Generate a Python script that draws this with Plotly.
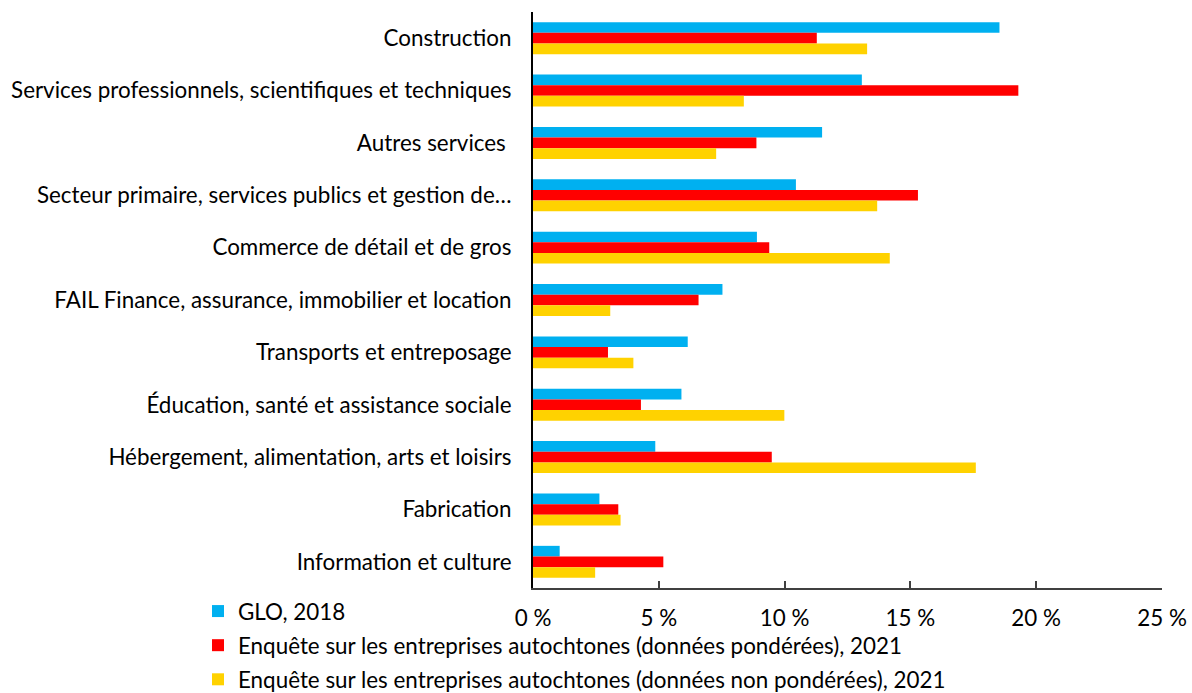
import plotly.graph_objects as go

categories = [
    "Construction",
    "Services professionnels, scientifiques et techniques",
    "Autres services\u00a0",
    "Secteur primaire, services publics et gestion de…",
    "Commerce de détail et de gros",
    "FAIL Finance, assurance, immobilier et location",
    "Transports et entreposage",
    "Éducation, santé et assistance sociale",
    "Hébergement, alimentation, arts et loisirs",
    "Fabrication",
    "Information et culture",
]

series_names = [
    "GLO, 2018",
    "Enquête sur les entreprises autochtones (données pondérées), 2021",
    "Enquête sur les entreprises autochtones (données non pondérées), 2021",
]

glo_2018 = [18.54, 13.07, 11.49, 10.45, 8.90, 7.53, 6.15, 5.90, 4.86, 2.64, 1.06]
eea_ponderees = [11.28, 19.29, 8.88, 15.30, 9.39, 6.58, 2.98, 4.29, 9.49, 3.39, 5.18]
eea_non_ponderees = [13.28, 8.38, 7.28, 13.68, 14.18, 3.07, 3.99, 9.99, 17.60, 3.48, 2.47]

tick_vals = [0, 5, 10, 15, 20, 25]
tick_text = ["0 %", "5 %", "10 %", "15 %", "20 %", "25 %"]

colors = ["#00B0F0", "#FF0000", "#FFD200"]

FONT = "Lato"
FS = 22.4

fig = go.Figure()
for i, (name, vals) in enumerate(zip(series_names, [glo_2018, eea_ponderees, eea_non_ponderees])):
    fig.add_trace(go.Bar(
        y=categories, x=vals, name=name, orientation="h",
        marker=dict(color=colors[i], line=dict(width=0)),
        legendgroup=f"g{i}",
    ))

fig.update_layout(
    width=1192, height=693,
    margin=dict(l=533, r=30, t=12, b=105, autoexpand=False),
    barmode="group", bargap=0.39, bargroupgap=0,
    plot_bgcolor="white", paper_bgcolor="white",
    font=dict(family=FONT, size=FS, color="#000000"),
    legend=dict(
        xref="container", yref="container",
        x=198 / 1192, y=1 - 590 / 693, xanchor="left", yanchor="top",
        traceorder="grouped", tracegroupgap=2,
        font=dict(family=FONT, size=FS, color="#000000"),
        bgcolor="rgba(0,0,0,0)", borderwidth=0,
    ),
    showlegend=True,
)

fig.update_xaxes(
    range=[0, 25], tickvals=tick_vals, ticktext=tick_text,
    showgrid=False, zeroline=False,
    showline=True, linecolor="#404040", linewidth=1.5,
    ticks="inside", ticklen=7, tickwidth=1.5, tickcolor="#404040",
    ticklabelstandoff=9,
    tickfont=dict(family=FONT, size=FS, color="#000000"),
)
fig.update_yaxes(
    categoryorder="array", categoryarray=categories, autorange="reversed",
    showgrid=False, zeroline=False,
    showline=True, linecolor="#000000", linewidth=2,
    ticks="", ticklabelstandoff=15,
    tickfont=dict(family=FONT, size=FS, color="#000000"),
)

fig.write_html(
    "out.html",
    config={"displayModeBar": False},
    post_script="document.body.style.margin='0';document.body.style.padding='0';",
)
